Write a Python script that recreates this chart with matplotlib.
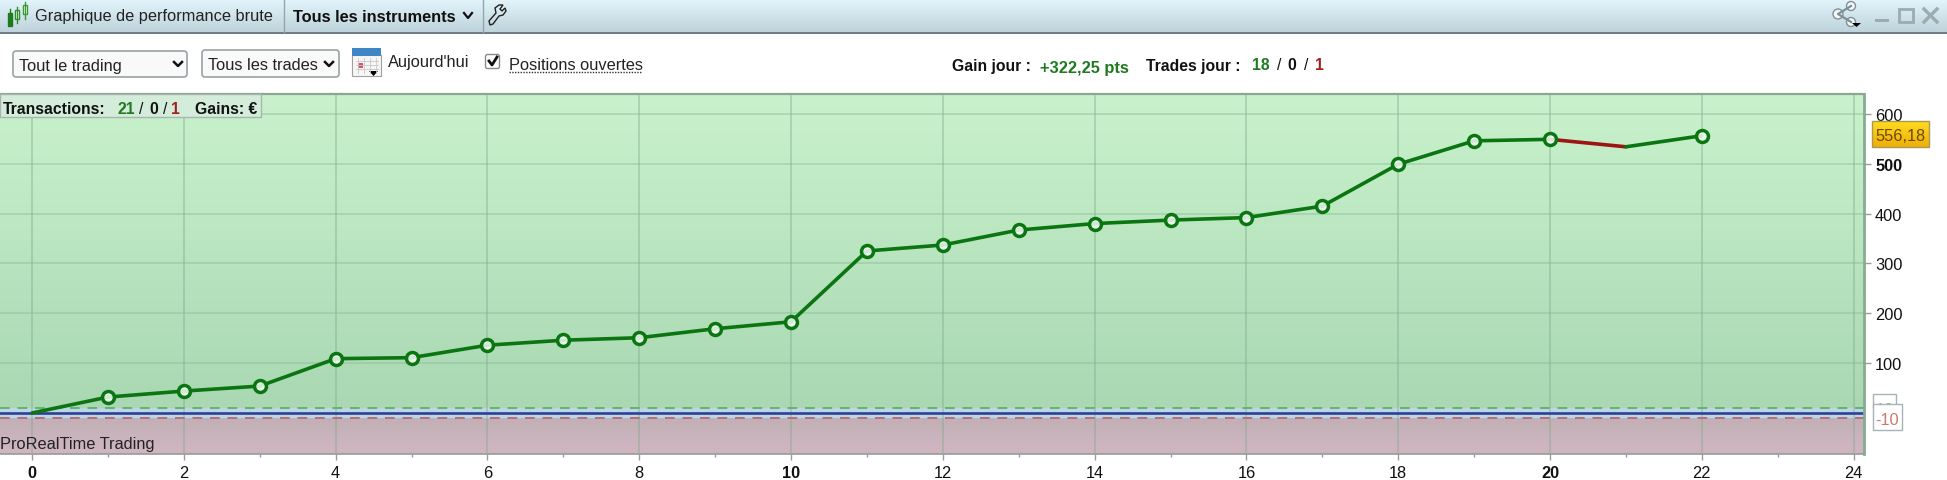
import numpy as np
import matplotlib
matplotlib.use("Agg")
import matplotlib.pyplot as plt
from matplotlib.patches import Rectangle, FancyBboxPatch, Circle, Polygon
from matplotlib.colors import LinearSegmentedColormap

plt.rcParams['font.family'] = ['Liberation Sans', 'DejaVu Sans']

W, H = 1947, 481
# data
trade_index = [0, 1, 2, 3, 4, 5, 6, 7, 8, 9, 10, 11, 12, 13, 14, 15, 16, 17, 18, 19, 20, 21, 22]
gains = [0, 32, 44, 54, 109, 111, 136, 146, 151, 169, 183, 325, 337, 367, 380, 387, 392, 415, 499, 546, 549, 534, 556.18]
marker_index = [1, 2, 3, 4, 5, 6, 7, 8, 9, 10, 11, 12, 13, 14, 15, 16, 17, 18, 19, 20, 22]
loss_segments = [20]
x_ticks = list(range(0, 25, 2))
x_minor = list(range(1, 24, 2))
x_bold = [0, 10, 20]
y_ticks = [100, 200, 300, 400, 500, 600]
y_bold = [500]
upper_level = 10
lower_level = -10
last_label = "556,18"

GREEN, RED = '#0b7512', '#9c1414'
FS = 16.4 * 72 / 100  # px to pt

fig = plt.figure(figsize=(W / 100, H / 100), dpi=100, facecolor='white')

# ---- chart axes
L, R, T, B = 0, 1864, 95, 454.5
ax = fig.add_axes([L / W, 1 - B / H, (R - L) / W, (B - T) / H])
x0px, xunit = 32.0, 75.9
y0px, yunit = 414.0, 0.4985
xlim = ((L - x0px) / xunit, (R - x0px) / xunit)
ylim = ((y0px - B) / yunit, (y0px - T) / yunit)
ax.set_xlim(xlim)
ax.set_ylim(ylim)

def vgrad(a, c_top, c_bot, x0, x1, y0, y1, z=0):
    cm = LinearSegmentedColormap.from_list('g', [c_top, c_bot])
    a.imshow(np.linspace(0, 1, 128)[:, None], cmap=cm, aspect='auto',
             extent=(x0, x1, y0, y1), zorder=z, interpolation='bilinear')

vgrad(ax, '#c9f2cc', '#a9d8b3', xlim[0], xlim[1], upper_level, ylim[1])
vgrad(ax, '#c2b0b6', '#d0b6c2', xlim[0], xlim[1], ylim[0], lower_level)
ax.axhspan(lower_level, upper_level, color='#bcd6e6', lw=0, zorder=0.5)
ax.set_xlim(xlim)
ax.set_ylim(ylim)

for v in x_ticks:
    ax.axvline(v, color='#7fa88c', alpha=0.5, lw=1.1, zorder=1)
for v in y_ticks:
    ax.axhline(v, color='#86b892', alpha=0.5, lw=1.1, zorder=1)
ax.axhline(upper_level, color='#5fb56e', lw=1.4, dashes=(5, 4), zorder=2)
ax.axhline(lower_level, color='#b5707a', lw=1.4, dashes=(5, 4), zorder=2)
ax.axhline(0, color='#2f3f96', lw=1.9, zorder=2)

# segments
for i in range(len(trade_index) - 1):
    col = RED if trade_index[i] in loss_segments else GREEN
    ax.plot(trade_index[i:i + 2], gains[i:i + 2], color=col, lw=2.6,
            solid_capstyle='round', zorder=3)
mx = marker_index
my = [gains[trade_index.index(v)] for v in mx]
ax.plot(mx, my, ls='none', marker='o', ms=8.6, mew=2.5, mec=GREEN,
        mfc=(0.95, 1, 0.96, 0.85), zorder=4)

ax.set_xticks(x_ticks)
ax.set_xticks(x_minor, minor=True)
ax.set_xticklabels([str(v) for v in x_ticks], fontsize=FS, color='#111111')
ax.tick_params(axis='x', which='major', length=4.5, width=1, color='#9a9a9a', pad=4)
ax.tick_params(axis='x', which='minor', length=2.5, width=1, color='#9a9a9a')
ax.yaxis.tick_right()
ax.set_yticks(y_ticks)
ax.set_yticklabels([str(v) for v in y_ticks], fontsize=FS, color='#111111')
ax.tick_params(axis='y', length=5, width=1, color='#9a9a9a', pad=3)
for lab, v in zip(ax.get_xticklabels(), x_ticks):
    if v in x_bold:
        lab.set_fontweight('bold')
for lab, v in zip(ax.get_yticklabels(), y_ticks):
    if v in y_bold:
        lab.set_fontweight('bold')
ax.spines['left'].set_visible(False)
ax.spines['top'].set_color('#8aa890')
ax.spines['top'].set_linewidth(1.6)
ax.spines['right'].set_color('#86ab92')
ax.spines['right'].set_linewidth(2)
ax.spines['bottom'].set_color('#9a9a9a')
ax.spines['bottom'].set_linewidth(1.2)

# ---- overlay in pixel coordinates (window chrome)
ui = fig.add_axes([0, 0, 1, 1], facecolor='none', zorder=5)
ui.set_xlim(0, W)
ui.set_ylim(H, 0)
ui.axis('off')

def txt(x, y, s, color='#111111', weight='normal', size=FS, ha='left', **k):
    return ui.text(x, y + 1, s, color=color, fontweight=weight, fontsize=size,
                   ha=ha, va='center', **k)

# title bar
vgrad(ui, '#e4f5fc', '#bed3db', 0, W, 33, 0)
ui.set_xlim(0, W)
ui.set_ylim(H, 0)
ui.add_patch(Rectangle((0, 33), W, 2, fc='#6e7e84', lw=0))
for xs in (284, 483):
    ui.plot([xs, xs], [0, 33], color='#93a5ad', lw=1)
txt(35, 16, "Graphique de performance brute", color='#222222')
txt(293, 17, "Tous les instruments", weight='bold')
ui.plot([464, 468, 472], [14, 19, 14], color='#111111', lw=1.6)
# candle icon
for xc, y0_, y1_, h0, h1, c in [(10, 14, 27, 10, 26, '#1f7a1f'), (17, 11, 20, 8, 24, '#2f8f2f'), (25, 6, 15, 3, 20, '#3a9a3a')]:
    ui.plot([xc, xc], [h0, h1], color=c, lw=1)
    ui.add_patch(Rectangle((xc - 2, y0_), 4, y1_ - y0_, fc=c if xc == 10 else 'white', ec=c, lw=1))
# wrench
ui.add_patch(Polygon([[489, 22], [496, 14], [495, 9], [499, 6], [503, 6], [500, 10], [502, 12], [505, 9], [506, 12], [503, 16], [499, 17], [493, 25], [490, 26]],
                     fc='none', ec='#222222', lw=1))
# window buttons
bc = '#9babb1'
ui.add_patch(Rectangle((1875, 20), 14, 3, fc=bc, lw=0))
ui.add_patch(Rectangle((1899, 10), 14, 13, fc='none', ec=bc, lw=2))
ui.plot([1924, 1937], [10, 23], color=bc, lw=2.4)
ui.plot([1937, 1924], [10, 23], color=bc, lw=2.4)
ui.plot([1851, 1838, 1851], [7, 15, 23], color='#7f8f96', lw=1.6)
for (cx, cy, r) in [(1851, 7, 4.5), (1838, 15, 5), (1851, 23, 4.5)]:
    ui.add_patch(Circle((cx, cy), r, fc='#f4f8fa', ec='#7f8f96', lw=1))
ui.add_patch(Polygon([[1852, 24], [1861, 24], [1856.5, 28]], fc='black', lw=0))

# controls
def dropdown(x0, x1, y0, y1, label, xa):
    ui.add_patch(FancyBboxPatch((x0 + 2, y0 + 2), x1 - x0 - 4, y1 - y0 - 4,
                                boxstyle='round,pad=2,rounding_size=3', fc='#f9f9f9', ec='#9aa2a6', lw=1.2))
    txt(x0 + 6, (y0 + y1) / 2, label, color='#222222')
    ui.plot([xa - 4, xa, xa + 4], [63, 67, 63], color='#111111', lw=1.8)

dropdown(13, 187, 52, 78, "Tout le trading", 178)
dropdown(202, 339, 51, 78, "Tous les trades", 329)
# calendar
ui.add_patch(Rectangle((352, 56), 29, 21, fc='#f6f6f6', ec='#a0a0a0', lw=0.8))
ui.add_patch(Rectangle((352, 49), 29, 8, fc='#3f86c6', lw=0))
for xg in (358, 364, 370, 376):
    ui.plot([xg, xg], [59, 74], color='#c8c8c8', lw=0.6)
for yg in (62, 66, 70):
    ui.plot([356, 378], [yg, yg], color='#c8c8c8', lw=0.6)
ui.add_patch(Rectangle((358, 64), 5, 5, fc='#d9506a', lw=0))
ui.add_patch(Polygon([[369, 72], [378, 72], [373.5, 77]], fc='black', lw=0))
txt(388, 62, "Aujourd'hui", color='#222222')
# checkbox
ui.add_patch(FancyBboxPatch((487, 57), 11, 11, boxstyle='round,pad=1.5,rounding_size=2', fc='white', ec='#8a8a8a', lw=1))
ui.plot([489, 492, 497], [62, 66, 58], color='#111111', lw=2)
txt(509, 64, "Positions ouvertes", color='#222222')
ui.plot([509, 641], [73, 73], color='#333333', lw=1, dashes=(1, 1))

# day stats
BF = 15.8 * 72 / 100
txt(952, 65, "Gain jour :", weight='bold', size=BF)
txt(1040, 67, "+322,25 pts", color='#1f7a1f', weight='bold', size=16.4 * 72 / 100)
txt(1146, 65, "Trades jour :", weight='bold', size=BF)
txt(1252, 65, "18", color='#1f7a1f', weight='bold', size=BF)
txt(1277, 65, "/", weight='normal', size=BF)
txt(1287, 65, "0", weight='bold', size=BF)
txt(1304, 65, "/", weight='normal', size=BF)
txt(1315, 65, "1", color='#a02020', weight='bold', size=BF)

# transactions box
ui.add_patch(Rectangle((0, 95), 261, 23, fc='#d4ecda', ec='#a8b4b0', lw=1))
txt(3, 108, "Transactions:", weight='bold', size=BF)
txt(117, 108, "21", color='#1f7a1f', weight='bold', size=BF)
txt(139, 108, "/", size=BF)
txt(149, 108, "0", weight='bold', size=BF)
txt(163, 108, "/", size=BF)
txt(171, 108, "1", color='#a02020', weight='bold', size=BF)
txt(195, 108, "Gains: €", weight='bold', size=BF)

txt(0, 444, "ProRealTime Trading", color='#222222')

# right labels
vgrad(ui, '#ffdc20', '#efae08', 1872, 1929, 148, 122, z=6)
ui.set_xlim(0, W)
ui.set_ylim(H, 0)
ui.add_patch(Rectangle((1872, 122), 57, 26, fc='none', ec='#a89a50', lw=1, zorder=7))
txt(1900.5, 136, last_label, color='#6a4a00', ha='center', zorder=8)
ui.add_patch(Rectangle((1873, 395), 23, 14, fc='white', ec='#a8b4b4', lw=1, zorder=6))
txt(1885, 410, "10", color='#7fbf8a', ha='center', zorder=6.5)
ui.add_patch(Rectangle((1873, 405), 29, 26, fc='white', ec='#a8b4b4', lw=1, zorder=7))
txt(1887.5, 420, "-10", color='#c87a70', ha='center', zorder=8)

fig.savefig('out.png', dpi=100, facecolor='white')
